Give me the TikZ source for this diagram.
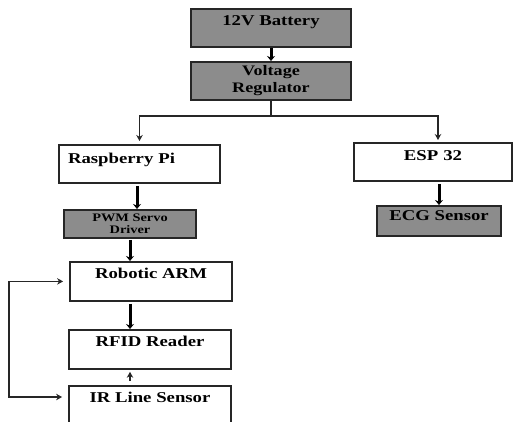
\documentclass[tikz,border=0pt]{standalone}
\usepackage{fontspec}
\setmainfont{Liberation Serif}[FakeStretch=1.25]
\usetikzlibrary{arrows.meta}

\begin{document}
\begin{tikzpicture}[x = 1pt, y = -1pt, % pixel grid, y goes down
                > = {Stealth[length = 6pt, width = 6.5pt]}, % arrow head style
                semithick % line style
            ]

            \tikzstyle{block}=[draw = black!85, line width = 1.8pt, anchor = north,
            inner sep = 0pt, font = \fontsize{15}{17}\selectfont\bfseries]
            \tikzstyle{dark}=[fill = black!45]
            \tikzstyle{wire}=[line width = 1.7pt, draw = black!85]
            \tikzstyle{fat}=[line width = 3pt, -{Stealth[length = 5pt, width = 8pt]}]

            \clip (0,0) rectangle (513,421);

            % power
            \node[block, dark, minimum width = 160pt, text height = 17pt,
            text depth = 21pt] (batt) at (271,8) {12V Battery};
            \node[block, dark, minimum width = 160pt, minimum height = 38pt,
            align = center, font = \fontsize{14.5}{17}\selectfont\bfseries]
            (volt) at (271,61) {Voltage\\Regulator};

            % left branch
            \node[block, text width = 143pt, inner xsep = 9pt, align = left,
            text height = 19pt, text depth = 19pt] (rpi) at (139.5,144)
            {Raspberry Pi};
            \node[block, dark, minimum width = 132pt, minimum height = 28pt,
            align = center, font = \fontsize{11.5}{11.5}\selectfont\bfseries]
            (pwm) at (130,209) {PWM Servo\\Driver};
            \node[block, minimum width = 162pt, text height = 17pt,
            text depth = 22pt] (arm) at (151,261) {Robotic ARM};
            \node[block, minimum width = 162pt, text height = 17pt,
            text depth = 22pt] (rfid) at (150,329) {RFID Reader};
            \node[block, minimum width = 162pt, text height = 17pt,
            text depth = 22pt] (ir) at (150,385) {IR Line Sensor};

            % right branch
            \node[block, minimum width = 158pt, text height = 18pt,
            text depth = 20pt] (esp) at (433,142) {ESP\,\,32};
            \node[block, dark, minimum width = 124pt, text height = 15pt,
            text depth = 15pt] (ecg) at (439,205) {ECG Sensor};

            \draw[fat] (batt) -- (volt);
            \draw[wire, ->, shorten > = 3pt] (volt.south) -- ++(0,15) -| (rpi.north);
            \draw[wire, ->, shorten > = 2pt] (volt.south) -- ++(0,15) -|
            ([xshift = 5pt]esp.north);
            \draw[fat, shorten <= 2pt] ([xshift = 7pt]pwm.north |- rpi.south) --
            ([xshift = 7pt]pwm.north);
            \draw[fat, shorten <= 1pt] (pwm.south) -- (pwm.south |- arm.north);
            \draw[fat, shorten <= 2pt] (pwm.south |- arm.south) -- (pwm.south |- rfid.north);
            \draw[wire, ->, shorten <= 4pt, shorten > = 2pt] (pwm.south |- ir.north) --
            (pwm.south |- rfid.south);
            \draw[fat, shorten <= 2pt] (ecg.north |- esp.south) -- (ecg.north);
            \draw[wire, <->, shorten <= 6pt, shorten > = 6pt] (arm.west) -- ++(-60,0) |-
            ([yshift = -12pt]ir.north west);
\end{tikzpicture}
\end{document}
